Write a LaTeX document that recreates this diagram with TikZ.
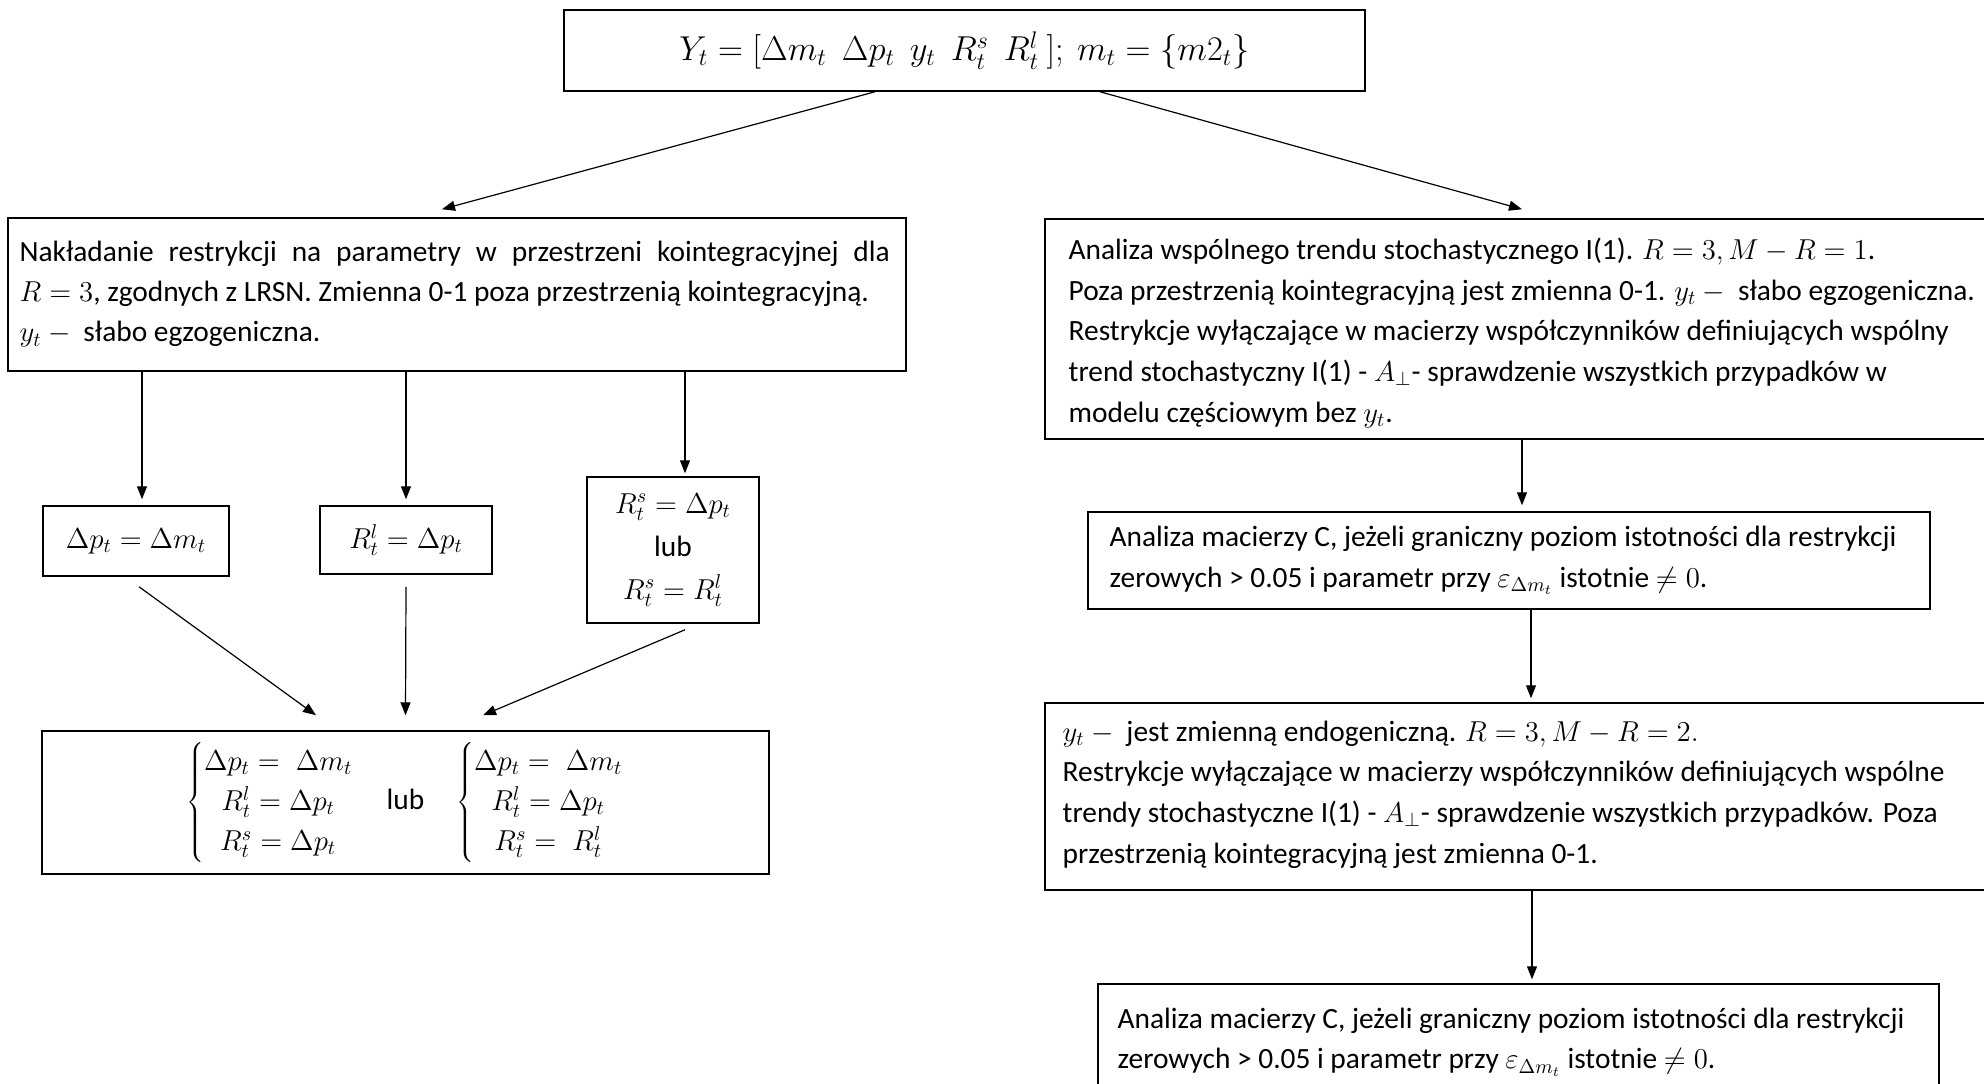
\documentclass[tikz,border=0pt]{standalone}
\usepackage{fontspec}
\setmainfont{Carlito}
\usetikzlibrary{arrows.meta}
% formula set slightly smaller than the surrounding text
\newcommand{\fml}[1]{{\fontsize{13.6}{20}\selectfont$#1$}}
\begin{document}
\begin{tikzpicture}[x=0.5pt,y=-0.5pt,
  box/.style={draw, line width=0.75pt, inner sep=0pt, font=\fontsize{14.7}{20}\selectfont},
  txt/.style={inner sep=0pt, align=left, anchor=west, font=\fontsize{14.7}{20.3}\selectfont},
  arr/.style={line width=0.6pt, -{Triangle[length=6.5pt,width=5pt]}}]
\useasboundingbox (0,0) rectangle (1984,1083);

% top: vector of variables
\node[box, minimum width=400.5pt, minimum height=40.5pt, font=\fontsize{16.5}{20}\selectfont] (top) at (964.5,50.5)
  {$Y_t = [\Delta m_t\ \ \Delta p_t\ \ y_t\ \ R^s_t\ \ R^l_t\ ];\ m_t = \{m2_t\}$};

% left branch
\node[box, minimum width=449pt, minimum height=76.5pt] (restr) at (457,294.5) {};
\node[txt, font=\fontsize{14.7}{20}\selectfont] (restrT) at ([xshift=6pt]restr.west)
  {\makebox[435pt][s]{Nakładanie restrykcji na parametry w przestrzeni kointegracyjnej dla}\\
   $R = 3$, zgodnych z LRSN. Zmienna 0-1 poza przestrzenią kointegracyjną.\\
   $y_t -{}$ słabo egzogeniczna.};

\node[box, minimum width=93pt, minimum height=35pt] (ra) at (136,541) {\fml{\Delta p_t = \Delta m_t}};
\node[box, minimum width=86pt, minimum height=34pt] (rb) at (406,540) {\fml{R^l_t = \Delta p_t}};
\node[box, minimum width=86pt, minimum height=73pt, align=center,
      font=\fontsize{14.7}{21.5}\selectfont] (rc) at (673,550)
  {\fml{R^s_t = \Delta p_t}\\ lub\\ \fml{R^s_t = R^l_t}};

\node[box, minimum width=363.5pt, minimum height=71.5pt] (sys) at (405.5,802.5)
  {\fml{\left\{\begin{array}{@{}c@{}}
     \Delta p_t = \;\Delta m_t\\ R^l_t = \Delta p_t\\ R^s_t = \Delta p_t
   \end{array}\right.}\hspace{16pt}lub\hspace{16pt}%
   \fml{\left\{\begin{array}{@{}c@{}}
     \Delta p_t = \;\Delta m_t\\ R^l_t = \Delta p_t\\ R^s_t = \;R^l_t
   \end{array}\right.}};

% right branch
\node[box, minimum width=475pt, minimum height=110pt] (trend) at (1520,329) {};
\node[txt] (trendT) at ([xshift=12pt,yshift=-2pt]trend.west)
  {Analiza wspólnego trendu stochastycznego I(1). $R = 3, M - R = 1$.\\
   Poza przestrzenią kointegracyjną jest zmienna 0-1. $y_t -{}$ słabo egzogeniczna.\\
   Restrykcje wyłączające w macierzy współczynników definiujących wspólny\\
   trend stochastyczny I(1) - $A_{\perp}$- sprawdzenie wszystkich przypadków w\\
   modelu częściowym bez $y_t$.};

\node[box, minimum width=421pt, minimum height=48.5pt] (c1) at (1509,560.5) {};
\node[txt] (c1T) at ([xshift=11pt]c1.west)
  {Analiza macierzy C, jeżeli graniczny poziom istotności dla restrykcji\\
   zerowych > 0.05 i parametr przy $\varepsilon_{\Delta m_t}$ istotnie $\neq 0$.};

\node[box, minimum width=475pt, minimum height=93.5pt] (endo) at (1520,796.5) {};
\node[txt] (endoT) at ([xshift=9pt,yshift=1pt]endo.west)
  {$y_t -{}$ jest zmienną endogeniczną. $R = 3, M - R = 2.$\\
   Restrykcje wyłączające w macierzy współczynników definiujących wspólne\\
   trendy stochastyczne I(1) - $A_{\perp}$- sprawdzenie wszystkich przypadków. Poza\\
   przestrzenią kointegracyjną jest zmienna 0-1.};

\node[box, minimum width=420.5pt, minimum height=56pt] (c2) at (1518.5,1040) {};
\node[txt] (c2T) at ([xshift=10pt,yshift=-1pt]c2.west)
  {Analiza macierzy C, jeżeli graniczny poziom istotności dla restrykcji\\
   zerowych > 0.05 i parametr przy $\varepsilon_{\Delta m_t}$ istotnie $\neq 0$.};

% connectors
\draw[arr] ([xshift=-44.75pt]top.south) -- ([xshift=-7.5pt,yshift=4pt]restr.north);
\draw[arr] ([xshift=67.75pt]top.south) -- ([xshift=1pt,yshift=4.5pt]trend.north);

\draw[arr] ([xshift=-157.5pt]restr.south) -- ([xshift=3pt,yshift=3pt]ra.north);
\draw[arr] ([xshift=-25.5pt]restr.south) -- ([yshift=3pt]rb.north);
\draw[arr] ([xshift=114pt]restr.south) -- ([xshift=6pt,yshift=1.5pt]rc.north);

\draw[arr] ([xshift=1.5pt,yshift=-5pt]ra.south) -- ([xshift=-44.75pt,yshift=7.5pt]sys.north);
\draw[arr] ([yshift=-6pt]rb.south) -- ([yshift=7.5pt]sys.north);
\draw[arr] ([xshift=6pt,yshift=-3pt]rc.south) -- ([xshift=38.75pt,yshift=7.5pt]sys.north);

\draw[arr] ([xshift=1pt]trend.south) -- ([xshift=6.5pt,yshift=3pt]c1.north);
\draw[arr] ([xshift=11pt]c1.south) -- ([xshift=5.5pt,yshift=2pt]endo.north);
\draw[arr] ([xshift=6pt]endo.south) -- ([xshift=6.75pt,yshift=2pt]c2.north);
\end{tikzpicture}
\end{document}
